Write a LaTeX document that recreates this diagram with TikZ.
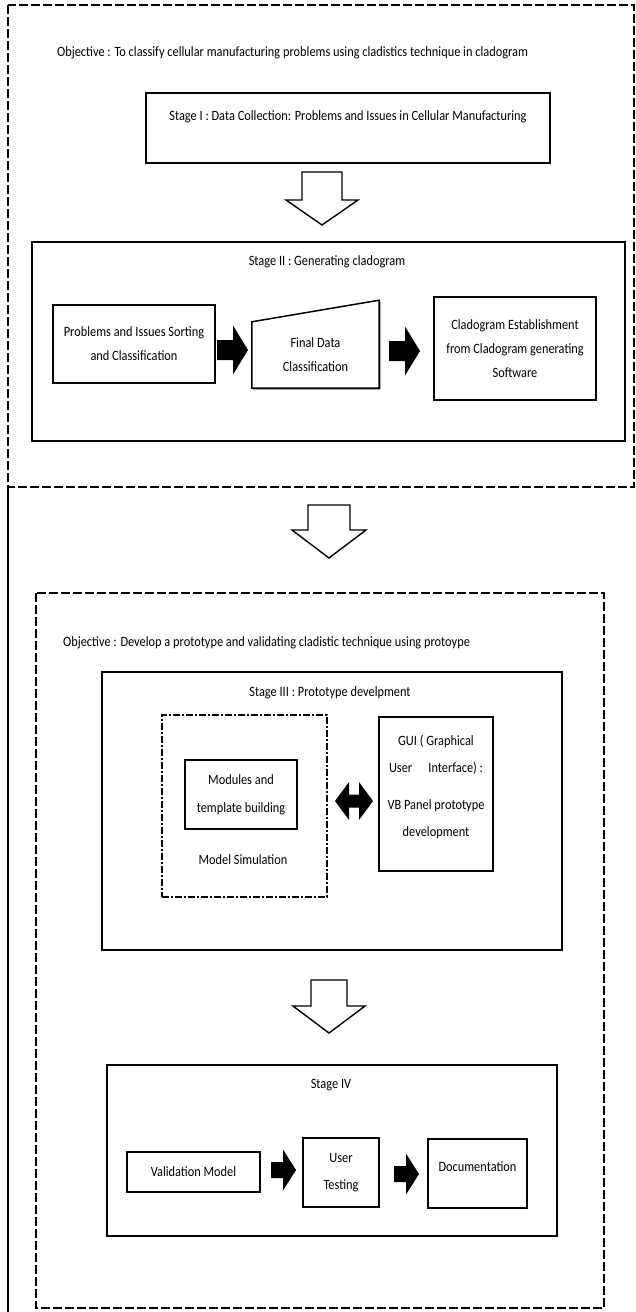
\documentclass[tikz,border=0pt]{standalone}
\usepackage{fontspec}
\setmainfont{Carlito}[FakeStretch=0.87]
\usetikzlibrary{shadows}

\tikzset{
    % block arrow pointing right, tail at the origin: shaft half width, head half width, shaft length, head length
    pics/blockarrow/.style n args={4}{code={
        \path[pic actions] (0,-#1) -- (#3,-#1) -- (#3,-#2) -- (#3+#4,0) -- (#3,#2) -- (#3,#1) -- (0,#1) -- cycle;
    }},
    pics/dblarrow/.style n args={4}{code={
        \path[pic actions] (0,0) -- (#4,-#2) -- (#4,-#1) -- (#4+#3,-#1) -- (#4+#3,-#2) -- (2*#4+#3,0)
            -- (#4+#3,#2) -- (#4+#3,#1) -- (#4,#1) -- (#4,#2) -- cycle;
    }},
}

\begin{document}
\begin{tikzpicture}[x=1pt, y=-1pt,
    every node/.style={font=\fontsize{14.2}{24}\selectfont},
    panel/.style={rectangle, draw, line width=1.5pt, fill=white,
        drop shadow={shadow xshift=1.2pt, shadow yshift=-1.2pt, fill=black, opacity=1}},
    itembox/.style={panel, align=center, inner sep=2pt},
    txt/.style={align=center, inner sep=0pt},
    objframe/.style={line width=1.8pt, dash pattern=on 9pt off 3pt},
    hollow/.style={draw, fill=white, line width=1.4pt, rotate=-90},
]
    \useasboundingbox (0,0) rectangle (636,1312);

    % objective frames
    \draw[objframe] (8,5) rectangle (634,487);
    \draw[line width=1.4pt] (8,487) -- (8,1312);
    \draw[objframe] (36,593) rectangle (604,1308);

    % Stage I
    \node[anchor=west, inner sep=0pt] (obj1) at (57,53) {Objective : To classify cellular manufacturing problems using cladistics technique in cladogram};
    \node[panel, minimum width=404pt, minimum height=70pt] (stage1) at (348,128) {};
    \node[txt] (stage1t) at (348,117) {Stage I : Data Collection: Problems and Issues in Cellular Manufacturing};

    \pic[hollow] (arr1) at (322,172) {blockarrow={20}{36}{28}{25}};

    % Stage II
    \node[panel, minimum width=593pt, minimum height=199pt] (stage2) at (328.5,341.5) {};
    \node[txt] (stage2t) at (327,262) {Stage II : Generating cladogram};
    \node[itembox, minimum width=162pt, minimum height=78pt] (sorting) at (134,344) {Problems and Issues Sorting\\and Classification};
    \pic[fill=black] (barr1) at (217,350) {blockarrow={10}{24.5}{16}{15}};
    \node[minimum width=127pt, minimum height=66pt, inner sep=0pt] (finalbox) at (315.5,355) {};
    \draw[line width=1.5pt, fill=white,
        drop shadow={shadow xshift=1.2pt, shadow yshift=-1.2pt, fill=black, opacity=1}]
        (finalbox.south west) -- (finalbox.south east) -- ++(0,-88) -- (finalbox.north west) -- cycle;
    \node[txt] (final) at (finalbox.center) {Final Data\\Classification};
    \pic[fill=black] (barr2) at (389,351) {blockarrow={10}{24.5}{16}{15}};
    \node[itembox, minimum width=162pt, minimum height=103pt] (clado) at (515,348.5) {Cladogram Establishment\\from Cladogram generating\\Software};

    \pic[hollow] (arr2) at (329,505) {blockarrow={21}{37}{25}{28}};

    % Stage III
    \node[anchor=west, inner sep=0pt] (obj2) at (63,643) {Objective : Develop a prototype and validating cladistic technique using protoype};
    \node[panel, minimum width=460pt, minimum height=278pt] (stage3) at (332,811) {};
    \node[txt] (stage3t) at (330,693) {Stage III : Prototype develpment};
    \node[rectangle, draw, line width=1.4pt, dash pattern=on 7pt off 2pt on 2pt off 2pt,
        minimum width=165pt, minimum height=182pt] (modelsim) at (244.5,806) {};
    \node[itembox, minimum width=112pt, minimum height=69pt,
        font=\fontsize{14.2}{28}\selectfont] (modules) at (241,794.5) {Modules and\\template building};
    \node[txt] (modelsimt) at (243,860) {Model Simulation};
    \pic[fill=black] (darr) at (335,801) {dblarrow={6.5}{19}{10}{14}};
    \node[panel, minimum width=114pt, minimum height=154pt] (gui) at (436,794) {};
    \node[txt, font=\fontsize{14.2}{27}\selectfont] (guit) at (436,787)
        {GUI ( Graphical\\\makebox[94pt]{User\hfill Interface) :}\\[10pt]VB Panel prototype\\development};

    \pic[hollow] (arr3) at (329,980) {blockarrow={18}{36}{26}{27}};

    % Stage IV
    \node[panel, minimum width=450pt, minimum height=171pt] (stage4) at (332,1150.5) {};
    \node[txt] (stage4t) at (331,1085) {Stage IV};
    \node[itembox, minimum width=133pt, minimum height=40pt] (valid) at (193.5,1172) {Validation Model};
    \pic[fill=black] (barr3) at (271,1170) {blockarrow={8}{20.5}{12}{13}};
    \node[itembox, minimum width=76pt, minimum height=69pt,
        font=\fontsize{14.2}{27}\selectfont] (usertest) at (341,1172.5) {User\\Testing};
    \pic[fill=black] (barr4) at (394,1174) {blockarrow={8}{20.5}{12}{13}};
    \node[panel, minimum width=99pt, minimum height=69pt] (doc) at (477.5,1173.5) {};
    \node[txt] (doct) at (477.5,1167) {Documentation};
\end{tikzpicture}
\end{document}
